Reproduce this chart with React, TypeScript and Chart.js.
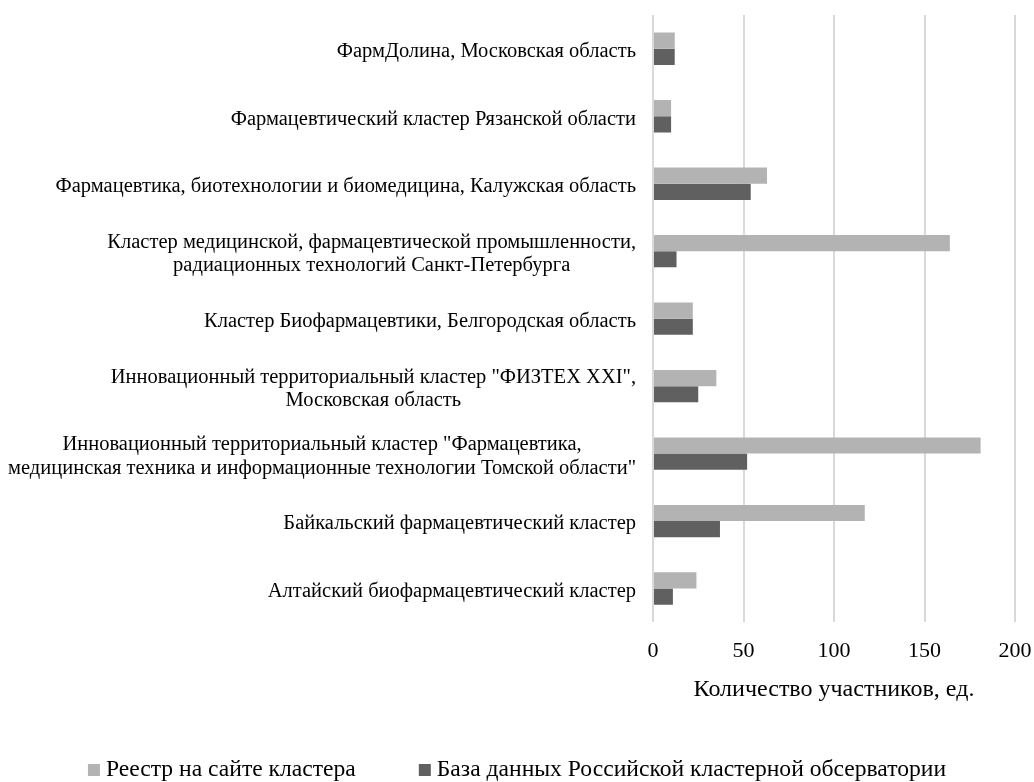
import React, { useEffect, useRef } from 'react';
import { Chart, registerables } from 'chart.js';

Chart.register(...registerables);

const categories: (string | string[])[] = [
  'ФармДолина, Московская область',
  'Фармацевтический кластер Рязанской области',
  'Фармацевтика, биотехнологии и биомедицина, Калужская область',
  ['Кластер медицинской, фармацевтической промышленности,', 'радиационных технологий Санкт-Петербурга'],
  'Кластер Биофармацевтики, Белгородская область',
  ['Инновационный территориальный кластер "ФИЗТЕХ XXI",', 'Московская область'],
  ['Инновационный территориальный кластер "Фармацевтика,', 'медицинская техника и информационные технологии Томской области"'],
  'Байкальский фармацевтический кластер',
  'Алтайский биофармацевтический кластер',
];

const registryValues = [12, 10, 63, 164, 22, 35, 181, 117, 24];
const observatoryValues = [12, 10, 54, 13, 22, 25, 52, 37, 11];

const seriesNames = ['Реестр на сайте кластера', 'База данных Российской кластерной обсерватории'];
const xTicks = [0, 50, 100, 150, 200];
const xTitle = 'Количество участников, ед.';

const FONT = '"Liberation Serif", "Times New Roman", serif';
const LIGHT = '#b3b3b3';
const DARK = '#606060';
const GRID = '#d9d9d9';
const TEXT = '#000000';

const catLabelPlugin = {
  id: 'catLabels',
  afterDraw(chart: any) {
    const ctx = chart.ctx;
    const y = chart.scales.y;
    const size = 20.5;
    const lh = 23.3;
    ctx.save();
    ctx.font = `${size}px ${FONT}`;
    ctx.fillStyle = TEXT;
    ctx.textAlign = 'center';
    ctx.textBaseline = 'middle';
    const labels = chart.data.labels as (string | string[])[];
    labels.forEach((lab, i) => {
      const lines = Array.isArray(lab) ? lab : [lab];
      const maxW = Math.max(...lines.map((l) => ctx.measureText(l).width));
      const right = chart.chartArea.left - 17;
      const cx = right - maxW / 2;
      const yc = y.getPixelForTick(i) + 3;
      const start = yc - ((lines.length - 1) * lh) / 2;
      lines.forEach((l, j) => ctx.fillText(l, cx, start + j * lh));
    });
    ctx.restore();
  },
};

const legendPlugin = {
  id: 'customLegend',
  afterDraw(chart: any) {
    const ctx = chart.ctx;
    const size = 23.6;
    const box = 12;
    const gap = 6;
    const spacing = 63;
    const yc = 770;
    ctx.save();
    ctx.font = `${size}px ${FONT}`;
    ctx.textBaseline = 'middle';
    ctx.textAlign = 'left';
    const ds = chart.data.datasets;
    const widths = ds.map((d: any) => box + gap + ctx.measureText(d.label).width);
    const total = widths.reduce((a: number, b: number) => a + b, 0) + spacing * (ds.length - 1);
    let x = chart.width / 2 - total / 2;
    ds.forEach((d: any, i: number) => {
      ctx.fillStyle = d.backgroundColor;
      ctx.fillRect(x, yc - box / 2, box, box);
      ctx.fillStyle = TEXT;
      ctx.fillText(d.label, x + box + gap, yc);
      x += widths[i] + spacing;
    });
    ctx.restore();
  },
};

export default function App() {
  const ref = useRef<HTMLCanvasElement | null>(null);

  useEffect(() => {
    if (!ref.current) return;
    const chart = new Chart(ref.current, {
      type: 'bar',
      data: {
        labels: categories,
        datasets: [
          {
            label: seriesNames[0],
            data: registryValues,
            backgroundColor: LIGHT,
            borderWidth: 0,
            categoryPercentage: 0.48,
            barPercentage: 1,
          },
          {
            label: seriesNames[1],
            data: observatoryValues,
            backgroundColor: DARK,
            borderWidth: 0,
            categoryPercentage: 0.48,
            barPercentage: 1,
          },
        ],
      },
      options: {
        indexAxis: 'y',
        animation: false,
        responsive: true,
        maintainAspectRatio: false,
        layout: { padding: { top: 15, left: 0, right: 0, bottom: 78 } },
        plugins: {
          legend: { display: false },
          tooltip: { enabled: false },
        },
        scales: {
          x: {
            min: 0,
            max: 200,
            afterBuildTicks: (scale: any) => {
              scale.ticks = xTicks.map((v) => ({ value: v }));
            },
            afterFit: (scale: any) => {
              scale.paddingRight = 19;
            },
            grid: { color: GRID, lineWidth: 2, drawTicks: false },
            border: { display: false },
            ticks: {
              padding: 16,
              color: TEXT,
              font: { family: FONT, size: 22 },
            },
            title: {
              display: true,
              text: xTitle,
              color: TEXT,
              font: { family: FONT, size: 24 },
              padding: { top: -5.5, bottom: 0 },
            },
          },
          y: {
            grid: { display: false },
            border: { display: false },
            ticks: { display: false },
            afterFit: (scale: any) => {
              scale.width = 653;
            },
          },
        },
      },
      plugins: [catLabelPlugin, legendPlugin],
    });
    return () => chart.destroy();
  }, []);

  return (
    <div style={{ position: 'absolute', left: 0, top: 0, width: 1034, height: 782, background: '#fff' }}>
      <canvas ref={ref} />
    </div>
  );
}
